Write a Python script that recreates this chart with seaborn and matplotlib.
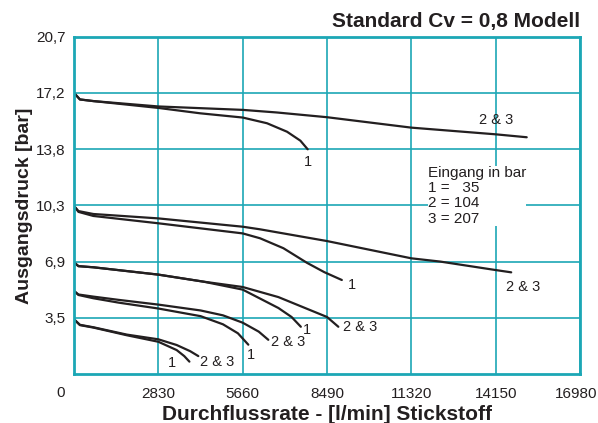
import numpy as np
import pandas as pd
import seaborn as sns
import matplotlib.pyplot as plt
import matplotlib.transforms as mtrans

# Flow values [l/min] and outlet pressure [bar]
top_23_x = [0, 200, 650, 2830, 5660, 6810, 8490, 11320, 14150, 15190]
top_23_y = [17.25, 16.85, 16.75, 16.42, 16.21, 16.05, 15.76, 15.12, 14.71, 14.53]
top_1_x = [0, 200, 650, 2830, 4235, 5660, 6476, 7148, 7596, 7842]
top_1_y = [17.25, 16.85, 16.75, 16.33, 16.0, 15.74, 15.39, 14.87, 14.32, 13.79]

g2_23_x = [0, 150, 650, 2830, 5660, 6244, 8490, 11320, 12290, 14150, 14670]
g2_23_y = [10.32, 10.0, 9.82, 9.55, 9.04, 8.88, 8.16, 7.1, 6.9, 6.38, 6.24]
g2_1_x = [0, 150, 650, 2830, 5660, 6244, 7027, 7812, 8400, 8987]
g2_1_y = [10.32, 9.95, 9.70, 9.25, 8.63, 8.33, 7.72, 6.83, 6.25, 5.77]

g3_23_x = [0, 150, 650, 2830, 4340, 5660, 6860, 8490, 8870]
g3_23_y = [6.85, 6.62, 6.55, 6.1, 5.67, 5.34, 4.72, 3.5, 2.9]
g3_1_x = [0, 150, 650, 2830, 4340, 5660, 6860, 7300, 7612]
g3_1_y = [6.85, 6.62, 6.55, 6.1, 5.67, 5.18, 4.05, 3.5, 2.9]

g4_23_x = [0, 150, 650, 1500, 2830, 4250, 5000, 5660, 6200, 6520]
g4_23_y = [5.1, 4.88, 4.75, 4.55, 4.26, 3.9, 3.6, 3.15, 2.6, 2.1]
g4_1_x = [0, 150, 650, 1500, 2830, 4250, 5000, 5500, 5850]
g4_1_y = [5.1, 4.85, 4.65, 4.38, 4.02, 3.55, 3.05, 2.5, 1.8]

g5_23_x = [0, 200, 650, 1770, 2830, 3445, 3900, 4172]
g5_23_y = [3.36, 3.02, 2.87, 2.42, 2.13, 1.78, 1.4, 1.1]
g5_1_x = [0, 200, 650, 1770, 2830, 3445, 3700, 3873]
g5_1_y = [3.36, 3.0, 2.85, 2.38, 1.98, 1.47, 1.1, 0.76]

curves = [
    (top_23_x, top_23_y), (top_1_x, top_1_y),
    (g2_23_x, g2_23_y), (g2_1_x, g2_1_y),
    (g3_23_x, g3_23_y), (g3_1_x, g3_1_y),
    (g4_23_x, g4_23_y), (g4_1_x, g4_1_y),
    (g5_23_x, g5_23_y), (g5_1_x, g5_1_y),
]

# curve end labels
label_text = ["2 & 3", "1", "1", "2 & 3", "1", "2 & 3", "1", "2 & 3", "1", "2 & 3"]
label_x = [14165, 7842, 9322, 15085, 7810, 9602, 5940, 7195, 3280, 4790]
label_y = [15.59, 13.03, 5.46, 5.36, 2.70, 2.90, 1.17, 1.98, 0.66, 0.76]

x_ticks = [0, 2830, 5660, 8490, 11320, 14150, 16980]
y_ticks = [3.45, 6.9, 10.35, 13.8, 17.25, 20.7]
y_labels = ["3,5", "6,9", "10,3", "13,8", "17,2", "20,7"]

grid_col = "#1ca7b5"
line_col = "#231f20"

sns.set_theme(style="white")
plt.rcParams['font.family'] = ['Liberation Sans', 'DejaVu Sans']

fig = plt.figure(figsize=(5.98, 4.23), dpi=100)
ax = fig.add_axes([0.1237, 0.1158, 0.8463, 0.7974])

for cx, cy in curves:
    df = pd.DataFrame({"flow": cx, "p": cy})
    sns.lineplot(data=df, x="flow", y="p", color=line_col, lw=1.6, ax=ax,
                 estimator=None)

for t, lx, ly in zip(label_text, label_x, label_y):
    ax.text(lx, ly, t, fontsize=10.5, color="#231f20", ha="center", va="center")

ax.text(11880, 12.75, "Eingang in bar\n1 =   35\n2 = 104\n3 = 207", fontsize=11,
        color="#231f20", ha="left", va="top", linespacing=1.1,
        bbox=dict(facecolor="white", edgecolor="none", pad=0))

ax.set_xlim(0, 16980)
ax.set_ylim(0, 20.7)
ax.set_xticks(x_ticks)
ax.set_xticklabels([""] + [str(v) for v in x_ticks[1:]])
ax.set_yticks(y_ticks)
ax.set_yticklabels(y_labels)
ax.tick_params(axis="both", length=0, labelsize=11, colors="#231f20")
ax.tick_params(axis="x", pad=9)
ax.tick_params(axis="y", pad=6)
ax.grid(True, color=grid_col, lw=1.2)
for s in ax.spines.values():
    s.set_color(grid_col)
    s.set_linewidth(2)
ax.set_axisbelow(True)

# last x label nudged left so it stays inside the picture
last = ax.get_xticklabels()[-1]
last.set_transform(last.get_transform() + mtrans.ScaledTranslation(-3 / 72, 0, fig.dpi_scale_trans))

# "0" origin label sits left of the axis corner
ax.text(-0.027, -0.055, "0", transform=ax.transAxes, fontsize=11,
        color="#231f20", ha="center", va="center")

ax.set_xlabel("Durchflussrate - [l/min] Stickstoff", fontsize=15, fontweight="bold",
              color="#231f20", labelpad=3)
ax.set_ylabel("Ausgangsdruck [bar]", fontsize=14, fontweight="bold",
              color="#231f20", labelpad=2)
fig.text(0.97, 0.95, "Standard Cv = 0,8 Modell", fontsize=15, fontweight="bold",
         color="#231f20", ha="right", va="center")

fig.savefig("out.png", dpi=100)
